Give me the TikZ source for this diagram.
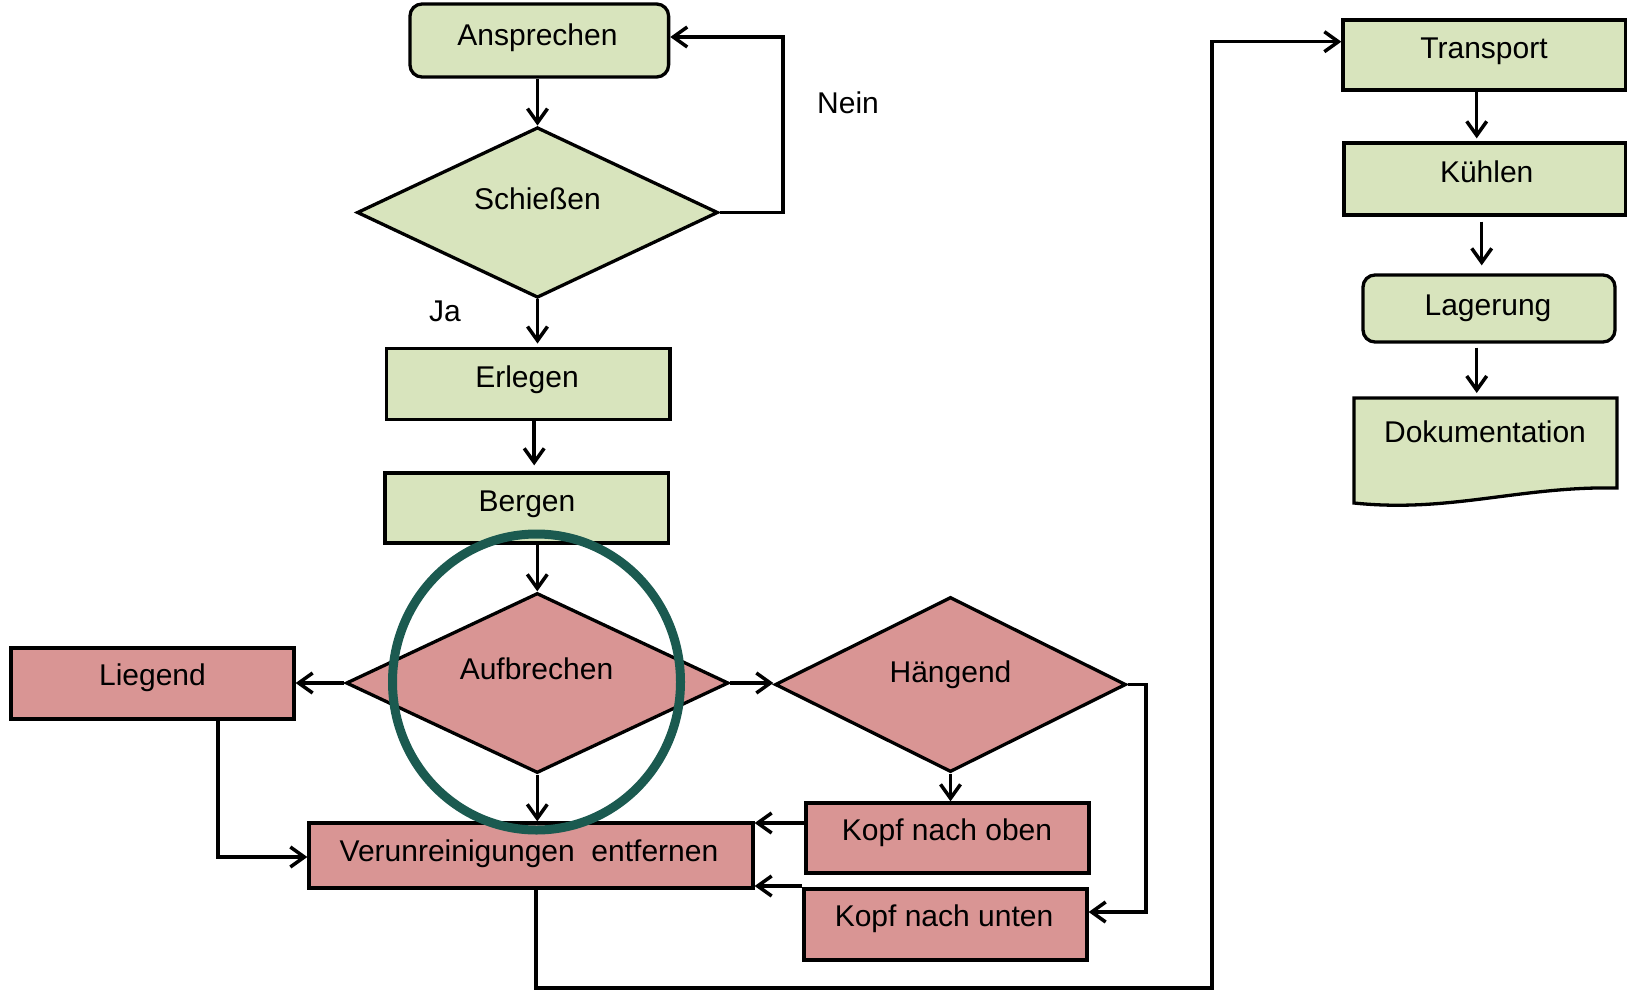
\documentclass[tikz,border=0pt]{standalone}
\usepackage{fontspec}
\setmainfont{Liberation Sans}
\usetikzlibrary{shapes.geometric,arrows.meta}
\definecolor{gfill}{HTML}{D8E4BD}
\definecolor{rfill}{HTML}{D99594}
\definecolor{ringc}{HTML}{1B5A50}
\begin{document}
\begin{tikzpicture}[x=1pt,y=-1pt,
  box/.style={draw=black, line width=3.3pt, inner sep=0pt, rectangle},
  gbox/.style={box, fill=gfill},
  rbox/.style={box, fill=rfill},
  gdia/.style={draw=black, line width=3.3pt, inner sep=0pt, diamond, fill=gfill},
  rdia/.style={draw=black, line width=3.3pt, inner sep=0pt, diamond, fill=rfill},
  lbl/.style={anchor=base, inner sep=0pt, font=\fontsize{30}{36}\selectfont},
  arr/.style={line width=3.5pt, -{Straight Barb[length=14pt,width=20pt,line width=3.5pt]}}]
\useasboundingbox (0,0) rectangle (1627,993);
\fill[white] (0,0) rectangle (1627,993);

% left column
\node[gbox, rounded corners=12pt, minimum width=258.6pt, minimum height=73pt] (ans) at (539.3,40.5) {};
\node[gdia, minimum width=361pt, minimum height=170.5pt] (sch) at (537.5,212.5) {};
\node[gbox, minimum width=283.6pt, minimum height=71.6pt] (erl) at (528.2,384) {};
\node[gbox, minimum width=283.6pt, minimum height=70pt] (brg) at (526.8,508) {};
\node[rdia, minimum width=382.5pt, minimum height=180pt] (auf) at (537.3,683) {};
\node[rbox, minimum width=283pt, minimum height=71pt] (lie) at (152.5,683.5) {};
\node[rdia, minimum width=351pt, minimum height=175pt] (hg) at (950.5,684.5) {};
\node[rbox, minimum width=444pt, minimum height=65pt] (ver) at (531,855.5) {};
\node[rbox, minimum width=283pt, minimum height=70pt] (ko) at (947.5,838) {};
\node[rbox, minimum width=283pt, minimum height=71pt] (ku) at (945.5,924.5) {};

% right column
\node[gbox, minimum width=283pt, minimum height=70pt] (tr) at (1484.5,55) {};
\node[gbox, minimum width=282pt, minimum height=72pt] (kh) at (1485,179) {};
\node[gbox, rounded corners=12pt, minimum width=252pt, minimum height=67pt] (lag) at (1489,308.5) {};
\draw[line width=3.3pt, fill=gfill] (1354,398) -- (1617,398) -- (1617,488)
  .. controls (1520,486) and (1450,513) .. (1354,503) -- cycle;
\coordinate (docn) at (1476.7,398);

% texts
\node[lbl] at (537.5,45) {Ansprechen};
\node[lbl] at (537.5,209) {Schießen};
\node[lbl] at (527,387) {Erlegen};
\node[lbl] at (527,511) {Bergen};
\node[lbl] (ja) at (445,321) {Ja};
\node[lbl] (nein) at (848,113.6) {Nein};
\node[lbl] at (536.5,679) {Aufbrechen};
\node[lbl] at (152.5,685) {Liegend};
\node[lbl] at (950.5,682) {Hängend};
\node[lbl] at (529,861) {Verunreinigungen~~entfernen};
\node[lbl] at (947,840) {Kopf nach oben};
\node[lbl] at (944,926) {Kopf nach unten};
\node[lbl] at (1484,58.3) {Transport};
\node[lbl] at (1486.7,182.7) {Kühlen};
\node[lbl] at (1488,315) {Lagerung};
\node[lbl] at (1485,442) {Dokumentation};

% connectors
\draw[arr] (ans.south -| sch.north) -- (sch.north);
\draw[arr] (sch.east) -- (783,212.5) -- (783,37) -- ([yshift=3.5pt]ans.east);
\draw[arr, shorten >=3pt] (sch.south) -- (sch.south |- erl.north);
\draw[arr, shorten >=6pt] ([xshift=6pt]erl.south) -- ([xshift=6pt]erl.south |- brg.north);
\draw[arr] (auf.north |- brg.south) -- (auf.north);
\draw[arr] (auf.west) -- (auf.west -| lie.east);
\draw[arr] (auf.east) -- (auf.east -| hg.west);
\draw[arr] (auf.south) -- (auf.south |- ver.north);
\draw[arr] (218,719) -- (218,857) -- (ver.west |- 0,857);
\draw[arr] (hg.south) -- (hg.south |- ko.north);
\draw[arr] (hg.east) -- (1146,684.5) -- (1146,912) -- (ku.east |- 0,912);
\draw[arr] (ko.west |- 0,823) -- (ver.east |- 0,823);
\draw[arr] (ku.west |- 0,886) -- (ver.east |- 0,886);
\draw[arr] (ver.south -| 536,0) -- (536,988) -- (1212,988) -- (1212,41.7) -- (tr.west |- 0,41.7);
\draw[arr, shorten >=3pt] ([xshift=-7.8pt]tr.south) -- ([xshift=-7.8pt]tr.south |- kh.north);
\draw[arr, shorten <=5pt, shorten >=8pt] ([xshift=-3.3pt]kh.south) -- ([xshift=-3.3pt]kh.south |- lag.north);
\draw[arr, shorten <=4pt, shorten >=5pt] (lag.south -| docn) -- (docn);

% highlight ring
\draw[ringc, line width=9pt] (536.5,682) ellipse [x radius=144pt, y radius=148pt];
\end{tikzpicture}
\end{document}
